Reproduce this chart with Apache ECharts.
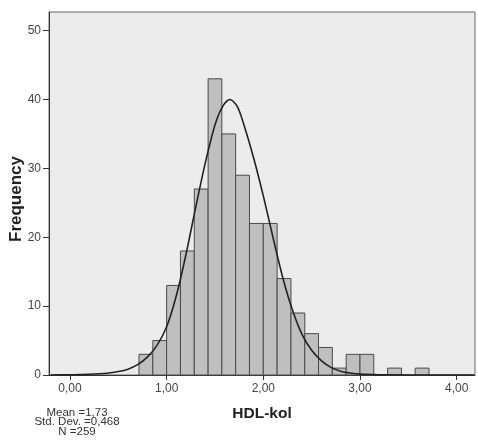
<!DOCTYPE html>
<html>
<head>
<meta charset="utf-8">
<script src="https://cdn.jsdelivr.net/npm/echarts@6/dist/echarts.min.js"></script>
<style>
html,body{margin:0;padding:0;background:#fff;}
#chart{width:478px;height:440px;}
</style>
</head>
<body>
<div id="chart"></div>
<script>
// Histogram bin edges (HDL-kol) and frequencies
var binEdges = [0.714, 0.857, 1.000, 1.143, 1.286, 1.429, 1.571, 1.714, 1.857, 2.000, 2.143,
                2.286, 2.429, 2.571, 2.714, 2.857, 3.000, 3.143, 3.286, 3.429, 3.571, 3.714];
var counts = [3, 5, 13, 18, 27, 43, 35, 29, 22, 22, 14, 9, 6, 4, 1, 3, 3, 0, 1, 0, 1];

// Normal curve
var curveX = [-0.2, 0.0, 0.1, 0.2, 0.3, 0.4, 0.5, 0.6, 0.7, 0.8, 0.9, 1.0, 1.1, 1.2, 1.3, 1.4, 1.5, 1.58, 1.655,
              1.73, 1.8, 1.9, 2.0, 2.1, 2.2, 2.3, 2.4, 2.5, 2.6, 2.7, 2.8, 2.9, 3.0, 3.2, 3.5, 4.0, 4.18];
var curveY = [0.0, 0.03, 0.06, 0.1, 0.18, 0.3, 0.5, 0.85, 1.5, 2.6, 4.3, 7.0, 11.5, 17.5, 24.3, 30.8, 36.3, 39.0, 40.0,
              39.0, 36.3, 31.5, 26.0, 20.0, 14.2, 9.5, 5.9, 3.6, 2.1, 1.1, 0.55, 0.28, 0.13, 0.04, 0.01, 0.0, 0.0];

var xTicks = [0, 1, 2, 3, 4];
var yTicks = [0, 10, 20, 30, 40, 50];
var statsLines = ['Mean =1,73', 'Std. Dev. =0,468', 'N =259'];

var barData = [];
for (var i = 0; i < counts.length; i++) {
  if (counts[i] > 0) barData.push([binEdges[i], binEdges[i + 1], counts[i]]);
}
var lineData = curveX.map(function (x, i) { return [x, curveY[i]]; });

var font = "'Liberation Sans', Arial, sans-serif";
var statsY = [413, 422.5, 432];
var statsGraphics = statsLines.map(function (t, i) {
  return {
    type: 'text', x: 77, y: statsY[i], scaleY: 0.88,
    style: {text: t, font: '11.5px ' + font, fill: '#333', align: 'center', verticalAlign: 'middle'}
  };
});

var chart = echarts.init(document.getElementById('chart'), null, {renderer: 'canvas'});
chart.setOption({
  animation: false,
  backgroundColor: '#ffffff',
  grid: {
    left: 49, top: 12, right: 3, bottom: 65,
    show: true, backgroundColor: '#ececec', borderColor: '#666', borderWidth: 1
  },
  xAxis: {
    type: 'value', min: -0.217, max: 4.19,
    axisLine: {show: true, onZero: false, lineStyle: {color: '#333', width: 1}},
    axisTick: {show: true, inside: false, length: 5, customValues: xTicks, lineStyle: {color: '#333'}},
    axisLabel: {
      customValues: xTicks, margin: 8, color: '#444', fontSize: 12, fontFamily: font,
      formatter: function (v) { return v.toFixed(2).replace('.', ','); }
    },
    splitLine: {show: false},
    name: 'HDL-kol', nameLocation: 'middle', nameGap: 31,
    nameTextStyle: {fontSize: 15.5, fontWeight: 'bold', color: '#222', fontFamily: font}
  },
  yAxis: {
    type: 'value', min: 0, max: 52.7,
    axisLine: {show: true, onZero: false, lineStyle: {color: '#333', width: 1}},
    axisTick: {show: true, inside: false, length: 6, customValues: yTicks, lineStyle: {color: '#333'}},
    axisLabel: {customValues: yTicks, margin: 8, color: '#444', fontSize: 12, fontFamily: font},
    splitLine: {show: false}
  },
  graphic: [
    {
      type: 'text', x: 16, y: 199, rotation: Math.PI / 2,
      style: {text: 'Frequency', font: 'bold 17px ' + font, fill: '#222', align: 'center', verticalAlign: 'middle'}
    }
  ].concat(statsGraphics),
  series: [
    {
      type: 'custom',
      data: barData,
      encode: {x: [0, 1], y: 2},
      renderItem: function (params, api) {
        var p0 = api.coord([api.value(0), api.value(2)]);
        var p1 = api.coord([api.value(1), 0]);
        return {
          type: 'rect',
          shape: {x: p0[0], y: p0[1], width: p1[0] - p0[0], height: p1[1] - p0[1]},
          style: {fill: '#bfbfbf', stroke: '#4a4a4a', lineWidth: 1}
        };
      },
      z: 2
    },
    {
      type: 'line',
      data: lineData,
      smooth: 0.3,
      showSymbol: false,
      symbol: 'none',
      lineStyle: {color: '#222', width: 1.6},
      z: 3
    }
  ]
});
</script>
</body>
</html>
